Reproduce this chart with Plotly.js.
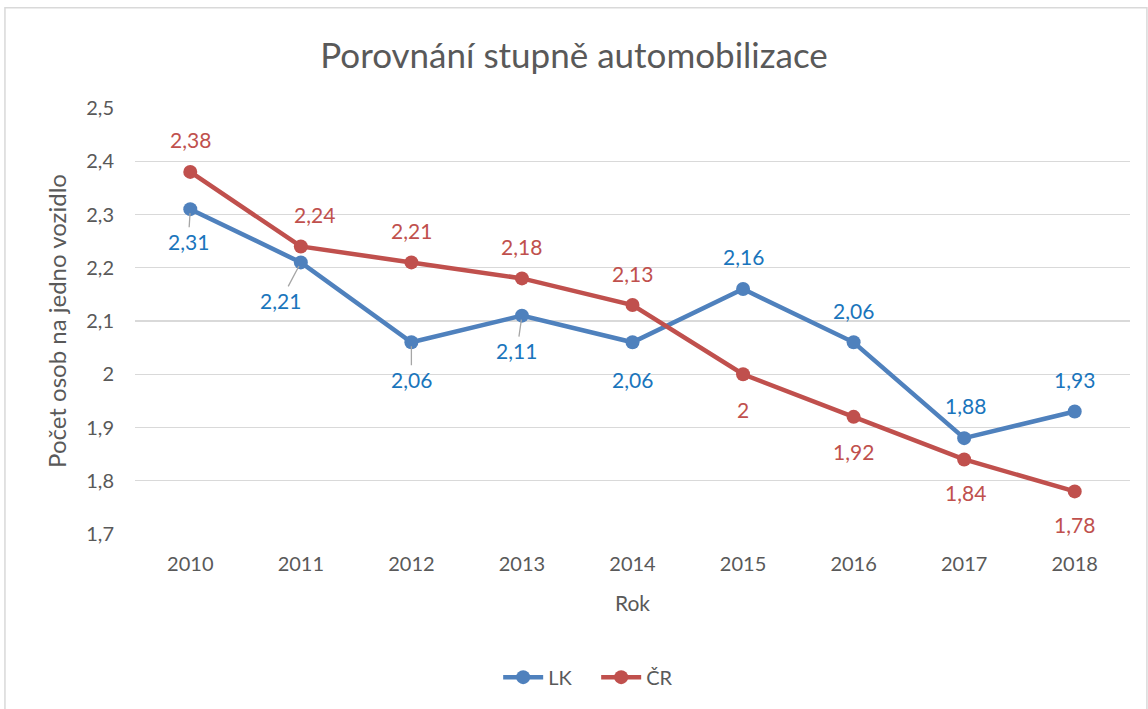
<!DOCTYPE html>
<html>
<head>
<meta charset="utf-8">
<script src="https://cdn.plot.ly/plotly-3.0.1.min.js"></script>
<style>
  html, body { margin: 0; padding: 0; background: #fff; }
  #chart { width: 1148px; height: 709px; }
</style>
</head>
<body>
<div id="chart"></div>
<script>
// ---- data ----
const years = ['2010', '2011', '2012', '2013', '2014', '2015', '2016', '2017', '2018'];
const lkValues = [2.31, 2.21, 2.06, 2.11, 2.06, 2.16, 2.06, 1.88, 1.93];
const crValues = [2.38, 2.24, 2.21, 2.18, 2.13, 2.00, 1.92, 1.84, 1.78];
const seriesNames = ['LK', 'ČR'];
const yTicks = [1.7, 1.8, 1.9, 2.0, 2.1, 2.2, 2.3, 2.4, 2.5];

// ---- label placement (style, pixel offsets) ----
const lkLabelDx = [-2, -20, 0, -5, 0, 0, 0, 1, 0];
const lkLabelDy = [32, 38, 37, 35, 37, -33, -32, -33, -32];
const lkLeader = [true, true, true, true, false, false, false, false, false];
const crLabelDx = [0, 14, 0, 0, 0, 0, 0, 1, 0];
const crLabelDy = [-32, -32, -32, -32, -32, 35, 35, 33, 33];

const BLUE = '#4F81BD', RED = '#C0504D', BLUE_LBL = '#1A75BC';
const FONT = 'Lato, "Open Sans", sans-serif';
const GREY = '#595959';

function fmt(v) { return String(v).replace('.', ','); }

const traces = [
  { x: years, y: lkValues, name: seriesNames[0], type: 'scatter', mode: 'lines+markers',
    line: { color: BLUE, width: 4.5 }, marker: { color: BLUE, size: 14 } },
  { x: years, y: crValues, name: seriesNames[1], type: 'scatter', mode: 'lines+markers',
    line: { color: RED, width: 4.5 }, marker: { color: RED, size: 14 } }
];

const annotations = [];
years.forEach((yr, i) => {
  annotations.push({
    x: i, y: lkValues[i], xref: 'x', yref: 'y', text: fmt(lkValues[i]),
    showarrow: true, ax: lkLabelDx[i], ay: lkLabelDy[i], arrowhead: 0, arrowwidth: 1.3,
    arrowcolor: lkLeader[i] ? '#A6A6A6' : 'rgba(0,0,0,0)', standoff: 4,
    font: { family: FONT, size: 21, color: BLUE_LBL }
  });
  annotations.push({
    x: i, y: crValues[i], xref: 'x', yref: 'y', text: fmt(crValues[i]),
    showarrow: true, ax: crLabelDx[i], ay: crLabelDy[i], arrowhead: 0, arrowwidth: 1,
    arrowcolor: 'rgba(0,0,0,0)',
    font: { family: FONT, size: 21, color: RED }
  });
});

const layout = {
  width: 1148, height: 709,
  margin: { l: 135, r: 18, t: 108, b: 175 },
  paper_bgcolor: '#fff', plot_bgcolor: '#fff',
  separators: ', ',
  font: { family: FONT, color: GREY, size: 20 },
  title: { text: 'Porovnání stupně automobilizace', x: 0.5, xanchor: 'center', y: 0.922, yanchor: 'middle',
           font: { family: FONT, size: 35, color: GREY } },
  xaxis: {
    type: 'category', range: [-0.5, 8.5], showgrid: false, zeroline: false,
    showline: false, ticks: '', ticklabelstandoff: 16, tickfont: { size: 20, color: GREY },
    title: { text: 'Rok', font: { size: 21, color: GREY }, standoff: 22 },
    automargin: false
  },
  yaxis: {
    range: [1.7, 2.5], tickvals: yTicks, ticktext: yTicks.map(fmt),
    showgrid: true, gridcolor: '#D9D9D9', gridwidth: 1.3, zeroline: false, showline: false,
    ticks: '', ticklabelstandoff: 20,
    tickfont: { size: 20, color: GREY },
    title: { text: 'Počet osob na jedno vozidlo', font: { size: 24, color: GREY }, standoff: 12 },
    automargin: false
  },
  showlegend: true,
  legend: { orientation: 'h', x: 0.365, xanchor: 'left', y: -0.336, yanchor: 'middle',
            font: { size: 20, color: GREY }, itemwidth: 40, entrywidth: 43, traceorder: 'normal' },
  annotations: annotations,
  shapes: [{
    type: 'rect', xref: 'paper', yref: 'paper',
    x0: -0.1307, x1: 1.017, y0: -0.45, y1: 1.2355,
    line: { color: '#D9D9D9', width: 1.5 }, fillcolor: 'rgba(0,0,0,0)', layer: 'below'
  }]
};

Plotly.newPlot('chart', traces, layout, { displayModeBar: false, staticPlot: true });
</script>
</body>
</html>
